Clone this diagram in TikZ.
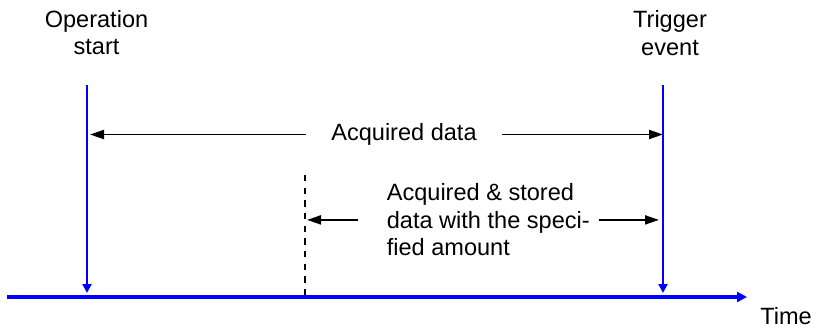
\documentclass[tikz,border=0pt]{standalone}
\usepackage{fontspec}
\setmainfont{Liberation Sans}
\usetikzlibrary{arrows.meta}

\begin{document}
\begin{tikzpicture}[font=\fontsize{13.4}{15.6}\selectfont,
  marker/.style={color=blue,line width=1.1pt,-{Triangle[length=0.18cm,width=0.18cm]}},
  span/.style={line width=1.1pt,-{Triangle[length=0.28cm,width=0.18cm]}},
  label/.style={align=center,inner sep=0pt,anchor=north}]
\useasboundingbox (0,0) rectangle (16.5,6.54);

% time axis
\coordinate (t0) at (0.14,0.60);
\coordinate (t1) at (14.94,0.60);
\draw[color=blue,line width=2.8pt,-{Triangle[length=0.2cm,width=0.2cm]}] (t0) -- (t1);
\node[anchor=base west,inner sep=0pt] (time) at (15.20,0.06) {Time};

% start and trigger markers
\coordinate (optop) at (1.74,4.84);
\coordinate (opbot) at (1.74,0.68);
\coordinate (trtop) at (13.26,4.84);
\coordinate (trbot) at (13.26,0.68);
\draw[marker] (optop) -- (opbot);
\draw[marker] (trtop) -- (trbot);
\node[label] (opstart) at (1.93,6.34) {Operation\\start};
\node[label] (trigger) at (13.40,6.33) {Trigger\\event};

% stored amount limit
\coordinate (limtop) at (6.10,3.04);
\coordinate (limbot) at (6.10,0.62);
\draw[line width=0.75pt,dash pattern=on 3.6pt off 3.6pt] (limtop) -- (limbot);

\node[inner xsep=0.5cm,inner ysep=0pt] (acq) at (8.08,3.85) {Acquired data};
\draw[span,shorten >=0.06cm] (acq.west) -- (acq.west -| optop);
\draw[span] (acq.east) -- (acq.east -| trtop);

\node[align=left,inner xsep=0.18cm,inner ysep=0pt,anchor=north west] (stored) at (7.55,2.87)
  {Acquired \& stored\\data with the speci-\\fied amount};
\draw[span,shorten <=0.39cm,shorten >=0.04cm] (stored.west) -- (stored.west -| limtop);
\draw[span,shorten >=0.08cm] (stored.east) -- (stored.east -| trtop);

\end{tikzpicture}
\end{document}
